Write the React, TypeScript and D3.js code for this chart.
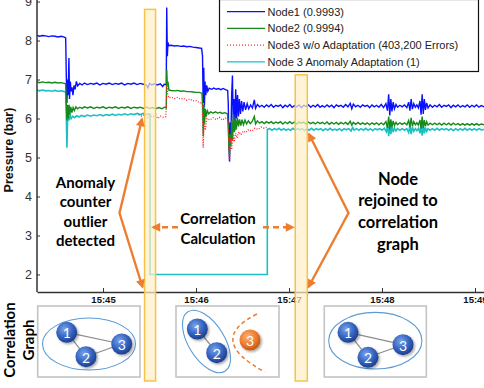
import React, { useEffect, useRef } from 'react'
import * as d3 from 'd3'

// seconds after 15:44:00, pressure in bar
const node1: [number, number][] = [
  [17.4,8.13],[19,8.11],[21,8.13],[23,8.12],[25,8.10],[27,8.12],[29,8.11],[31,8.09],[33,8.11],[35,8.09],[35.9,8.07],
  [36.3,7.1],[36.7,6.4],[37.1,7.0],[37.5,6.6],[38,7.55],[38.4,6.5],[38.9,6.95],[39.4,6.7],[40,6.8],[40.6,6.6],[41.3,6.85],[42,6.75],[42.8,6.95],[43.6,6.84],
  [45,6.9],[46.5,6.86],[48,6.91],[50,6.87],[52,6.9],[54,6.88],[56,6.91],[58,6.86],[60,6.9],[62,6.88],[64,6.91],[66,6.87],[68,6.9],[70,6.88],[72,6.91],[74,6.86],[76,6.9],[78,6.88],[80,6.91],[82,6.87],[84,6.9],[86,6.88],[88,6.86],[89,6.79],[90,6.9],[91.5,6.86],[93,6.89],[95,6.86],[97,6.89],[98.5,6.82],[99.5,6.88],[100.8,6.87],
  [101.1,8.85],[101.5,7.6],[101.9,7.95],[102.5,7.87],[104,7.88],[106,7.86],[108,7.87],[110,7.85],[112,7.86],[114,7.84],[116,7.85],[118,7.83],[120,7.82],[122,7.81],[123.6,7.8],
  [124.2,7.6],[124.6,6.4],[125,7.3],[125.4,6.3],[125.8,6.95],[126.3,6.6],[126.9,6.85],[127.6,6.7],[128.5,6.78],[130,6.75],[131.5,6.78],[133,6.75],[134.5,6.77],[136,6.74],[137.5,6.77],[139,6.74],[140.4,6.72],
  [140.8,6.4],[141.2,5.4],[141.6,4.9],[142,5.9],[142.5,5.5],[143,6.6],[143.5,7.1],[144,5.9],[144.5,6.5],[145,5.7],[145.6,6.75],[146.2,6.0],[146.8,6.6],[147.4,6.05],[148,6.5],[148.7,6.12],[149.4,6.45],[150.2,6.18],[151,6.42],[152,6.22],[153,6.38],[154,6.25],[155.2,6.35],[156.4,6.27],[157.6,6.48],[158.4,6.26],[159.6,6.36],[161,6.3],
  [162.5,6.34],[164,6.29],[165.5,6.35],[167,6.3],[168.5,6.36],[170,6.29],[171.5,6.34],[173,6.31],[174.5,6.35],[176,6.28],[177.5,6.34],[179,6.3],[180.5,6.36],[182,6.29],[183.5,6.33],[185,6.3],[186.5,6.35],[188,6.28],[189.5,6.34],[191,6.31],
  [192.5,6.35],[194,6.29],[195.5,6.34],[197,6.3],[198.5,6.36],[200,6.29],[201.5,6.33],[203,6.29],[204.5,6.35],[206,6.3],[207.5,6.34],[209,6.28],[210.5,6.35],[212,6.31],[213.5,6.34],[215,6.29],[216.5,6.36],[218,6.3],[219.5,6.39],[220.5,6.25],
  [221.5,6.37],[223,6.3],[224.5,6.34],[226,6.29],[227.5,6.35],[229,6.31],[230.5,6.34],[232,6.28],[233.5,6.35],[235,6.3],[236.5,6.34],[238,6.29],[239.5,6.36],[241,6.28],[242.5,6.38],[243.5,6.2],[244.3,6.62],[245,6.08],[245.7,6.5],[246.4,6.18],
  [247.2,6.42],[248,6.25],[249,6.36],[250,6.29],[251.5,6.34],[253,6.3],[254.5,6.35],[256,6.28],[257.2,6.42],[258,6.2],[258.8,6.5],[259.6,6.24],[260.5,6.38],[261.5,6.29],[262.5,6.35],[263.5,6.27],[264.5,6.45],[265.2,6.1],[265.9,6.62],[266.6,6.12],
  [267.3,6.5],[268,6.22],[268.8,6.4],[269.7,6.27],[271,6.35],[272.5,6.29],[274,6.34],[275.5,6.3],[277,6.36],[278.5,6.29],[280,6.34],[281.5,6.31],[283,6.35],[284.5,6.28],[286,6.34],[287.5,6.3],[289,6.35],[290.5,6.29],[292,6.33],[293.5,6.3],
  [295,6.35],[296.5,6.29],[298,6.34],[299.5,6.3],[301,6.35],[302.5,6.29],[304,6.33],[306,6.3]
]

const node2: [number, number][] = [
  [17.4,6.94],[19,6.92],[21,6.94],[23,6.92],[25,6.93],[27,6.91],[29,6.93],[31,6.91],[33,6.92],[35,6.9],[35.9,6.89],
  [36.3,6.4],[36.7,5.95],[37.1,6.35],[37.6,6.0],[38.1,6.35],[38.6,6.1],[39.2,6.3],[39.9,6.15],[40.7,6.28],[41.5,6.2],[42.5,6.3],[43.5,6.25],
  [45,6.29],[46.5,6.26],[48,6.3],[50,6.27],[52,6.3],[54,6.26],[56,6.29],[58,6.27],[60,6.3],[62,6.26],[64,6.29],[66,6.27],[68,6.3],[70,6.26],[72,6.29],[74,6.27],[76,6.3],[78,6.26],[80,6.29],[82,6.27],[84,6.29],[86,6.26],[88,6.29],[90,6.26],[92,6.28],[94,6.25],[96,6.28],[98,6.25],[99.5,6.29],[100.8,6.27],
  [101.1,7.25],[101.5,6.85],[101.9,6.95],[102.5,6.73],[104,6.72],[106,6.71],[108,6.72],[110,6.7],[112,6.71],[114,6.69],[116,6.69],[118,6.68],[120,6.67],[122,6.67],[123.8,6.65],
  [124.3,6.3],[124.7,5.55],[125.1,6.35],[125.5,5.85],[126,6.25],[126.6,6.05],[127.3,6.2],[128.2,6.12],[129.5,6.17],[131,6.14],[132.5,6.17],[134,6.14],[135.5,6.16],[137,6.13],[138.5,6.15],[140.3,6.12],
  [140.8,5.8],[141.2,5.3],[141.6,5.05],[142,5.6],[142.5,5.3],[143,5.95],[143.6,5.45],[144.2,6.1],[144.8,5.65],[145.4,6.0],[146,5.72],[146.7,6.02],[147.4,5.8],[148.1,5.98],[148.9,5.82],[149.7,5.97],[150.6,5.84],[151.6,5.96],[152.6,5.86],[153.8,5.94],[155,5.87],[156.3,5.93],[157.6,6.05],[158.4,5.86],[159.6,5.94],[161,5.88],
  [162.5,5.92],[164,5.87],[165.5,5.92],[167,5.88],[168.5,5.92],[170,5.87],[171.5,5.91],[173,5.88],[174.5,5.92],[176,5.86],[177.5,5.91],[179,5.87],[180.5,5.92],[182,5.87],[183.5,5.91],[185,5.86],[186.5,5.91],[188,5.88],[189.5,5.91],[191,5.86],
  [192.5,5.91],[194,5.87],[195.5,5.9],[197,5.86],[198.5,5.91],[200,5.87],[201.5,5.9],[203,5.86],[204.5,5.91],[206,5.85],[207.5,5.9],[209,5.86],[210.5,5.9],[212,5.85],[213.5,5.9],[215,5.86],[216.5,5.9],[218,5.85],[219.5,5.93],[220.5,5.83],
  [221.5,5.9],[223,5.85],[224.5,5.9],[226,5.85],[227.5,5.89],[229,5.85],[230.5,5.89],[232,5.84],[233.5,5.89],[235,5.85],[236.5,5.89],[238,5.84],[239.5,5.89],[241,5.84],[242.5,5.92],[243.5,5.76],[244.3,6.05],[245,5.72],[245.7,5.98],[246.4,5.78],
  [247.2,5.94],[248,5.82],[249,5.9],[250,5.84],[251.5,5.89],[253,5.85],[254.5,5.89],[256,5.84],[257.2,5.95],[258,5.78],[258.8,6.02],[259.6,5.8],[260.5,5.92],[261.5,5.84],[262.5,5.89],[263.5,5.83],[264.5,5.96],[265.2,5.74],[265.9,6.05],[266.6,5.76],
  [267.3,5.96],[268,5.8],[268.8,5.92],[269.7,5.83],[271,5.88],[272.5,5.84],[274,5.88],[275.5,5.84],[277,5.88],[278.5,5.83],[280,5.88],[281.5,5.84],[283,5.88],[284.5,5.83],[286,5.88],[287.5,5.84],[289,5.87],[290.5,5.83],[292,5.87],[293.5,5.83],
  [295,5.87],[296.5,5.83],[298,5.87],[299.5,5.83],[301,5.87],[302.5,5.83],[304,5.86],[306,5.84]
]

const node3Raw: [number, number][] = [
  [83,6.1],[85,6.06],[87,6.1],[88.5,6.02],[90,6.08],[92,6.04],[94,6.09],[95.5,6.0],[97,6.06],[99,6.03],[100.6,6.05],
  [101.2,6.9],[101.8,6.6],[102.5,6.53],[104,6.55],[106,6.51],[108,6.54],[110,6.5],[112,6.52],[114,6.47],[116,6.5],[118,6.45],[120,6.46],[122,6.41],[124,6.4],
  [124.6,5.25],[125.2,5.9],[126,5.7],[127,6.0],[129,5.96],[131,6.02],[133,5.97],[135,6.03],[137,5.96],[139,6.01],[140.6,5.95],
  [141.2,5.3],[141.7,4.9],[142.3,5.5],[143,5.2],[143.8,5.6],[144.6,5.4],[145.5,5.62],[146.5,5.5],[147.5,5.66],[149,5.58],[150.5,5.68],[152,5.64],[154,5.72],[156,5.68],[158,5.75],[160,5.72],[162,5.78],[164,5.75],[165.8,5.78]
]

const node3Adapted: [number, number][] = [
  [17.4,6.73],[19,6.71],[21,6.73],[23,6.71],[25,6.72],[27,6.7],[29,6.72],[31,6.7],[33,6.71],[35,6.69],[35.9,6.68],
  [36.3,6.1],[36.7,5.25],[37.1,5.9],[37.6,6.1],[38.2,5.95],[38.8,6.08],[39.5,6.0],[40.5,6.06],[41.5,6.02],[43,6.07],[44.5,6.04],[46,6.08],[48,6.05],[50,6.09],[52,6.06],[54,6.09],[56,6.07],[58,6.1],[60,6.07],[62,6.1],[64,6.08],[66,6.11],[68,6.08],[70,6.11],[72,6.09],[74,6.12],[76,6.09],[78,6.12],[80,6.1],[82,6.13],[84,6.1],[86,6.13],[88,6.11],[90.3,6.12],
  [90.3,2.0],[166,2.0],[166,5.72],
  [167.5,5.74],[169,5.7],[170.5,5.74],[172,5.71],[173.5,5.75],[175,5.7],[176.5,5.74],[178,5.7],[179.5,5.73],[181,5.7],[182.5,5.75],[184,5.7],[185.5,5.74],[187,5.71],[188.5,5.74],[190,5.69],[191.5,5.74],[193,5.7],[194.5,5.75],[196,5.7],
  [197.5,5.74],[199,5.71],[200.5,5.74],[202,5.69],[203.5,5.74],[205,5.7],[206.5,5.75],[208,5.7],[209.5,5.73],[211,5.7],[212.5,5.74],[214,5.69],[215.5,5.74],[217,5.71],[218.5,5.74],[220,5.68],[221,5.77],[222,5.7],[223.5,5.74],[225,5.7],
  [226.5,5.74],[228,5.7],[229.5,5.75],[231,5.7],[232.5,5.74],[234,5.69],[235.5,5.74],[237,5.71],[238.5,5.74],[240,5.7],[241.5,5.75],[242.8,5.66],[243.6,5.82],[244.3,5.55],[245,5.85],[245.7,5.6],[246.4,5.8],[247.2,5.65],[248,5.76],[249,5.68],
  [250,5.74],[251.5,5.7],[253,5.74],[254.5,5.7],[256,5.74],[257.2,5.64],[258,5.82],[258.8,5.6],[259.6,5.78],[260.5,5.67],[261.5,5.74],[262.5,5.69],[263.5,5.75],[264.5,5.62],[265.2,5.86],[265.9,5.56],[266.6,5.82],[267.3,5.62],[268,5.77],[268.8,5.67],
  [269.7,5.74],[271,5.7],[272.5,5.74],[274,5.7],[275.5,5.75],[277,5.7],[278.5,5.74],[280,5.71],[281.5,5.74],[283,5.7],[284.5,5.74],[286,5.69],[287.5,5.74],[289,5.7],[290.5,5.74],[292,5.7],[293.5,5.75],[295,5.7],[296.5,5.74],[298,5.7],
  [299.5,5.74],[301,5.7],[302.5,5.74],[304,5.71],[306,5.72]
]

const legendLabels = ['Node1 (0.9993)', 'Node2 (0.9994)', 'Node3 w/o Adaptation (403,200 Errors)', 'Node 3 Anomaly Adaptation (1)']
const yTicks = [2, 3, 4, 5, 6, 7, 8, 9]

// highlighted windows (seconds after 15:44) and their top value
const windowStart = [86.8, 184]
const windowEnd = [93.9, 191.8]
const windowTop = [8.8, 7.12]

const T0 = new Date(2000, 0, 1, 15, 44, 0).getTime()
const toTime = (s: number) => new Date(T0 + s * 1000)

const ORANGE = '#ed7d31'

function drawChart(el: SVGSVGElement) {
  const svg = d3.select(el)
  svg.selectAll('*').remove()

  const x = d3.scaleTime().domain([toTime(17.4), toTime(305.8)]).range([37, 484])
  const y = d3.scaleLinear().domain([1.55, 9.04]).range([292, 0])

  const defs = svg.append('defs')
  defs.append('clipPath').attr('id', 'plotClip')
    .append('rect').attr('x', 37).attr('y', 0).attr('width', 447).attr('height', 292)
  defs.append('marker').attr('id', 'arrow')
    .attr('viewBox', '0 0 10 10').attr('refX', 8).attr('refY', 5)
    .attr('markerWidth', 10).attr('markerHeight', 9)
    .attr('markerUnits', 'userSpaceOnUse').attr('orient', 'auto-start-reverse')
    .append('path').attr('d', 'M0,0 L10,5 L0,10 z').attr('fill', ORANGE)
  const grad = (id: string, c0: string, c1: string, c2: string) => {
    const g = defs.append('radialGradient').attr('id', id).attr('cx', '40%').attr('cy', '35%').attr('r', '65%')
    g.append('stop').attr('offset', '0%').attr('stop-color', c0)
    g.append('stop').attr('offset', '60%').attr('stop-color', c1)
    g.append('stop').attr('offset', '100%').attr('stop-color', c2)
  }
  grad('blueBall', '#7aa6ea', '#3563c0', '#1d3f8c')
  grad('orangeBall', '#fbb27a', '#ee7d31', '#c45a14')
  defs.append('filter').attr('id', 'shadow').attr('x', '-50%').attr('y', '-50%').attr('width', '200%').attr('height', '200%')
    .append('feDropShadow').attr('dx', 1.5).attr('dy', 1.5).attr('stdDeviation', 1.2).attr('flood-color', '#000').attr('flood-opacity', 0.35)

  // series
  const line = d3.line<[number, number]>().x(d => x(toTime(d[0]))).y(d => y(d[1]))
  const plot = svg.append('g').attr('clip-path', 'url(#plotClip)')
  plot.append('path').attr('d', line(node3Adapted)).attr('fill', 'none').attr('stroke', '#1cc0c4').attr('stroke-width', 1.6)
  plot.append('path').attr('d', line(node1)).attr('fill', 'none').attr('stroke', '#0a10ff').attr('stroke-width', 1.4)
  plot.append('path').attr('d', line(node2)).attr('fill', 'none').attr('stroke', '#15891a').attr('stroke-width', 1.4)
  plot.append('path').attr('d', line(node3Raw)).attr('fill', 'none').attr('stroke', '#ff2a2a')
    .attr('stroke-width', 1.3).attr('stroke-dasharray', '1 1.6')

  // axes
  const yAxis = svg.append('g').attr('transform', 'translate(37,0)')
    .call(d3.axisLeft(y).tickValues(yTicks).tickSizeInner(-3).tickSizeOuter(0).tickPadding(5).tickFormat(d3.format('d')))
  yAxis.select('.domain').attr('stroke', '#333').attr('stroke-width', 1.5).attr('d', 'M0,0V292')
  yAxis.selectAll('.tick line').attr('stroke', '#333')
  yAxis.selectAll('.tick text').attr('font-family', 'Liberation Sans, Arial, sans-serif').attr('font-size', 12.5).attr('fill', '#333')

  const xAxis = svg.append('g').attr('transform', 'translate(0,292)')
    .call(d3.axisBottom(x).ticks(d3.timeMinute.every(1)).tickSizeInner(-4).tickSizeOuter(0).tickPadding(4)
      .tickFormat(d3.timeFormat('%H:%M') as any))
  xAxis.select('.domain').attr('stroke', '#333').attr('stroke-width', 1.5)
  xAxis.selectAll('.tick line').attr('stroke', '#333')
  xAxis.selectAll('.tick text').attr('font-family', 'Liberation Sans, Arial, sans-serif').attr('font-size', 9.5)
    .attr('font-weight', 'bold').attr('fill', '#111')

  svg.append('text')
    .attr('transform', 'translate(9,150) rotate(-90)')
    .attr('text-anchor', 'middle').attr('dominant-baseline', 'central')
    .attr('font-family', 'Liberation Sans, Arial, sans-serif').attr('font-weight', 'bold').attr('font-size', 12.5)
    .attr('fill', '#111').text('Pressure (bar)')

  // highlighted windows
  svg.selectAll('rect.window').data(windowStart).join('rect').attr('class', 'window')
    .attr('x', (d, i) => x(toTime(d)))
    .attr('y', (d, i) => y(windowTop[i]))
    .attr('width', (d, i) => x(toTime(windowEnd[i])) - x(toTime(d)))
    .attr('height', (d, i) => 381 - y(windowTop[i]))
    .attr('fill', '#fff0c8').attr('fill-opacity', 0.7)
    .attr('stroke', '#f7c24a').attr('stroke-width', 1.5)

  // legend
  const legend = svg.append('g')
  legend.append('rect').attr('x', 219.5).attr('y', -0.5).attr('width', 259).attr('height', 72)
    .attr('fill', '#fff').attr('stroke', '#111').attr('stroke-width', 1.2)
  const colors = ['#0a10ff', '#15891a', '#ff2a2a', '#1cc0c4']
  legendLabels.forEach((label, i) => {
    const ly = 11.7 + i * 16.7
    legend.append('line').attr('x1', 227).attr('x2', 265).attr('y1', ly).attr('y2', ly)
      .attr('stroke', colors[i]).attr('stroke-width', 1.2)
      .attr('stroke-dasharray', i === 2 ? '1 2' : null)
    legend.append('text').attr('x', 267.5).attr('y', ly).attr('dominant-baseline', 'central')
      .attr('font-family', 'Liberation Sans, Arial, sans-serif').attr('font-size', 11)
      .attr('fill', '#222').text(label)
  })

  // annotations
  const block = (cx: number, cy: number, lines: string[], size: number, gap: number) => {
    const t = svg.append('text').attr('text-anchor', 'middle')
      .attr('font-family', 'Lato, sans-serif').attr('font-weight', 'bold').attr('font-size', size).attr('fill', '#000')
    lines.forEach((l, i) => t.append('tspan').attr('x', cx).attr('y', cy + i * gap).attr('dominant-baseline', 'central').text(l))
  }
  block(85.5, 182, ['Anomaly', 'counter', 'outlier', 'detected'], 15, 19.3)
  block(218, 218, ['Correlation', 'Calculation'], 15, 19.6)
  block(398, 178.5, ['Node', 'rejoined to', 'correlation', 'graph'], 16.5, 21.7)

  const arrows = svg.append('g').attr('fill', 'none').attr('stroke', ORANGE)
  arrows.append('path').attr('d', 'M142,119 L119.5,213 L142.5,287')
    .attr('stroke-width', 2.4).attr('marker-start', 'url(#arrow)').attr('marker-end', 'url(#arrow)')
  arrows.append('path').attr('d', 'M309,134 L348.5,213 L308.5,287')
    .attr('stroke-width', 2.4).attr('marker-start', 'url(#arrow)').attr('marker-end', 'url(#arrow)')
  arrows.append('path').attr('d', 'M178,227.3 L153,227.3')
    .attr('stroke-width', 2.4).attr('stroke-dasharray', '6 4').attr('marker-end', 'url(#arrow)')
  arrows.append('path').attr('d', 'M263,227.3 L293,227.3')
    .attr('stroke-width', 2.4).attr('stroke-dasharray', '6 4').attr('marker-end', 'url(#arrow)')

  // correlation graph panels
  svg.append('text')
    .attr('transform', 'translate(19,340) rotate(-90)')
    .attr('text-anchor', 'middle')
    .attr('font-family', 'Lato, sans-serif').attr('font-weight', 'bold').attr('font-size', 15).attr('fill', '#000')
    .call(t => {
      t.append('tspan').attr('x', 0).attr('y', -10).attr('dominant-baseline', 'central').text('Correlation')
      t.append('tspan').attr('x', 0).attr('y', 9).attr('dominant-baseline', 'central').text('Graph')
    })

  const panel = (x0: number, x1: number) =>
    svg.append('rect').attr('x', x0).attr('y', 306).attr('width', x1 - x0).attr('height', 71)
      .attr('fill', '#fff').attr('stroke', '#c4c4c4').attr('stroke-width', 1.6)
  panel(37.7, 140)
  panel(176, 279)
  panel(324.3, 426.3)

  const edge = (a: number[], b: number[]) =>
    svg.append('line').attr('x1', a[0]).attr('y1', a[1]).attr('x2', b[0]).attr('y2', b[1])
      .attr('stroke', '#8c8c8c').attr('stroke-width', 1.2)
  const ball = (p: number[], label: string, fill: string) => {
    const g = svg.append('g')
    g.append('circle').attr('cx', p[0]).attr('cy', p[1]).attr('r', 10.5)
      .attr('fill', `url(#${fill})`).attr('filter', 'url(#shadow)')
    g.append('text').attr('x', p[0]).attr('y', p[1] + 0.5).attr('text-anchor', 'middle').attr('dominant-baseline', 'central')
      .attr('font-family', 'Lato, sans-serif').attr('font-size', 14).attr('fill', '#fff').text(label)
  }

  // panel 1
  svg.append('ellipse').attr('cx', 89).attr('cy', 344).attr('rx', 46.5).attr('ry', 26)
    .attr('fill', 'none').attr('stroke', '#5b9bd5').attr('stroke-width', 1.1)
  const a1 = [66.7, 332.3], a2 = [86, 356.7], a3 = [121.7, 344]
  edge(a1, a3); edge(a1, a2); edge(a2, a3)
  ball(a1, '1', 'blueBall'); ball(a2, '2', 'blueBall'); ball(a3, '3', 'blueBall')

  // panel 2
  svg.append('ellipse').attr('cx', 0).attr('cy', 0).attr('rx', 35).attr('ry', 18)
    .attr('transform', 'translate(206.5,341.5) rotate(58)')
    .attr('fill', 'none').attr('stroke', '#5b9bd5').attr('stroke-width', 1.1)
  const b1 = [197.3, 329], b2 = [216.7, 352.7], b3 = [250, 340]
  edge(b1, b2)
  svg.append('path').attr('d', 'M257,314 Q205,340 265,372').attr('fill', 'none')
    .attr('stroke', ORANGE).attr('stroke-width', 1.5).attr('stroke-dasharray', '4 3')
  ball(b1, '1', 'blueBall'); ball(b2, '2', 'blueBall'); ball(b3, '3', 'orangeBall')

  // panel 3
  svg.append('ellipse').attr('cx', 375.3).attr('cy', 340.7).attr('rx', 46.6).attr('ry', 28.3)
    .attr('fill', 'none').attr('stroke', '#5b9bd5').attr('stroke-width', 1.1)
  const c1 = [348, 332.3], c2 = [368, 357.3], c3 = [403, 344.7]
  edge(c1, c3); edge(c1, c2); edge(c2, c3)
  ball(c1, '1', 'blueBall'); ball(c2, '2', 'blueBall'); ball(c3, '3', 'blueBall')
}

const App = () => {
  const ref = useRef<SVGSVGElement>(null)
  useEffect(() => {
    if (ref.current) drawChart(ref.current)
  }, [])
  return (
    <div>
      <style>{'body{margin:0;background:#fff}'}</style>
      <svg ref={ref} width={484} height={388} style={{ display: 'block' }}></svg>
    </div>
  )
}

export default App
